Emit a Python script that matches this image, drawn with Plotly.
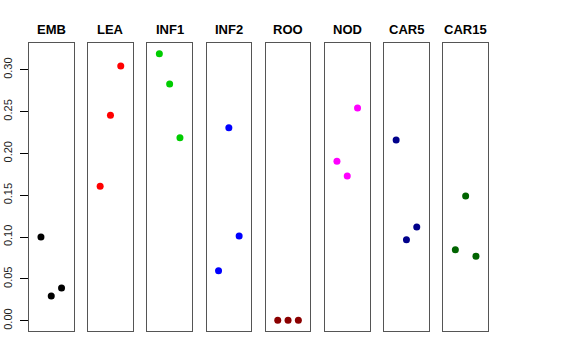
import plotly.graph_objects as go

panels = ["EMB", "LEA", "INF1", "INF2", "ROO", "NOD", "CAR5", "CAR15"]
colors = ["#000000", "#FF0000", "#00CD00", "#0000FF", "#8B0000", "#FF00FF", "#00008B", "#006400"]
positions = [1, 2, 3]
values = {
    "EMB": [0.100, 0.0295, 0.039],
    "LEA": [0.1606, 0.2455, 0.3044],
    "INF1": [0.319, 0.2829, 0.2187],
    "INF2": [0.0598, 0.2307, 0.1012],
    "ROO": [0.0005, 0.0005, 0.0005],
    "NOD": [0.1905, 0.1729, 0.2542],
    "CAR5": [0.216, 0.0968, 0.112],
    "CAR15": [0.0849, 0.149, 0.077],
}
yticks = [0.00, 0.05, 0.10, 0.15, 0.20, 0.25, 0.30]
ytick_labels = ["0.00", "0.05", "0.10", "0.15", "0.20", "0.25", "0.30"]

W, H = 576, 360
x0, step, pw = 29.0, 59.2, 44.5
ytop, ybot = 43, 331
ydom = [(H - ybot) / H, (H - ytop) / H]

fig = go.Figure()
layout = dict(
    width=W, height=H,
    margin=dict(l=0, r=0, t=0, b=0),
    paper_bgcolor="white", plot_bgcolor="white",
    showlegend=False,
    template="none",
    font=dict(family="Liberation Sans, Arial, sans-serif", color="black"),
)
annotations = []
for i, name in enumerate(panels):
    n = i + 1
    xa = "x" if n == 1 else f"x{n}"
    ya = "y" if n == 1 else f"y{n}"
    fig.add_trace(go.Scatter(
        x=positions, y=values[name], mode="markers",
        marker=dict(color=colors[i], size=7, line=dict(width=0)),
        xaxis=xa, yaxis=ya, hoverinfo="skip",
    ))
    left = x0 + i * step
    dom = [left / W, (left + pw) / W]
    layout["xaxis" if n == 1 else f"xaxis{n}"] = dict(
        domain=dom, range=[-0.16, 4.16], showgrid=False, zeroline=False,
        showticklabels=False, ticks="", showline=True, mirror=True,
        linecolor="#555555", linewidth=1, anchor=ya, automargin=False, fixedrange=True,
    )
    yax = dict(
        domain=ydom, range=[-0.0123, 0.332], showgrid=False, zeroline=False,
        showline=True, mirror=True, linecolor="#555555", linewidth=1,
        anchor=xa, automargin=False, fixedrange=True,
    )
    if n == 1:
        yax.update(
            tickmode="array", tickvals=yticks, ticktext=ytick_labels,
            ticks="outside", ticklen=8, tickcolor="black", tickwidth=1,
            tickangle=-90, tickfont=dict(size=11, color="#222222"),
            ticklabelstandoff=4,
        )
    else:
        yax.update(showticklabels=False, ticks="")
    layout["yaxis" if n == 1 else f"yaxis{n}"] = yax
    annotations.append(dict(
        x=(left + pw / 2) / W, y=(H - 29.5) / H, xref="paper", yref="paper",
        text="<b>" + name + "</b>", showarrow=False,
        font=dict(size=13, color="black"), xanchor="center", yanchor="middle",
    ))
layout["annotations"] = annotations
fig.update_layout(**layout)
fig.write_html(
    "out.html",
    config={"displayModeBar": False},
    post_script="document.body.style.margin='0';document.body.style.overflow='hidden';",
)
